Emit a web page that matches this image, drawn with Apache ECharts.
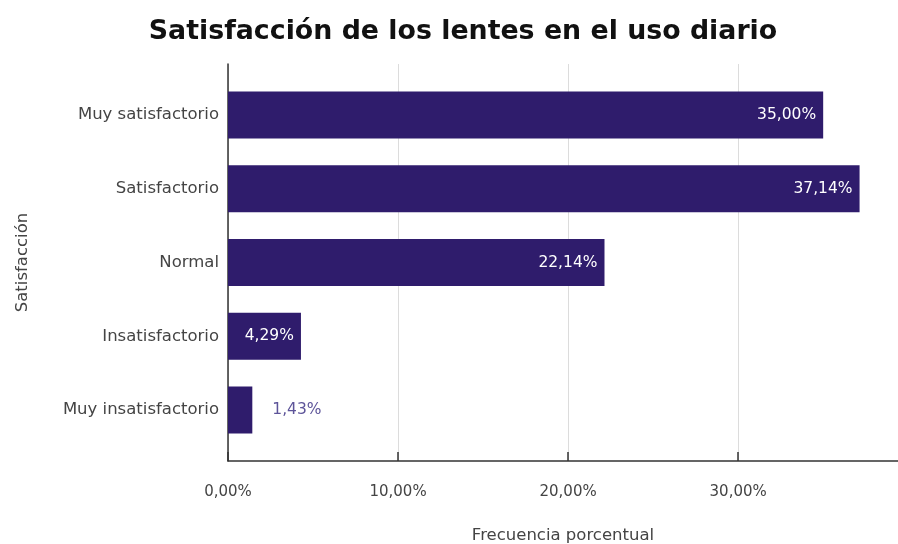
<!DOCTYPE html>
<html>
<head>
<meta charset="utf-8">
<script src="https://cdn.jsdelivr.net/npm/echarts@6/dist/echarts.min.js"></script>
<style>
  html, body { margin: 0; padding: 0; background: #fff; }
  #chart { width: 898px; height: 544px; }
</style>
</head>
<body>
<div id="chart"></div>
<script>
// Satisfaction levels, top to bottom
const categories = ['Muy satisfactorio', 'Satisfactorio', 'Normal', 'Insatisfactorio', 'Muy insatisfactorio'];
// Percentage of respondents per level
const percentages = [35.00, 37.14, 22.14, 4.29, 1.43];
// Ticks shown on the percentage axis
const tickValues = [0, 10, 20, 30];

const AXIS_MAX = 39.4;
const BAR_COLOR = '#2f1c6c';
const FONT = '"DejaVu Sans", Verdana, sans-serif';

const fmt = v => v.toFixed(2).replace('.', ',') + '%';

const barData = percentages.map(v => {
  const item = { value: v };
  // bars too short to hold their label get it outside, in a muted purple
  if (v < 3) {
    item.label = { position: 'right', distance: 20, color: '#5d5499' };
  }
  return item;
});

const chart = echarts.init(document.getElementById('chart'), null, { renderer: 'canvas' });
chart.setOption({
  backgroundColor: '#fff',
  animation: false,
  textStyle: { fontFamily: FONT },
  title: {
    text: 'Satisfacción de los lentes en el uso diario',
    left: 458,
    textAlign: 'center',
    top: 14,
    textStyle: { fontSize: 26.8, fontWeight: 'bold', color: '#111', fontFamily: FONT }
  },
  grid: [
    // bar area
    { left: 228, right: 0, top: 78, bottom: 97, outerBoundsMode: 'none', containLabel: false },
    // frame holding the axis lines, gridlines and ticks
    { left: 228, right: 0, top: 64, bottom: 83, outerBoundsMode: 'none', containLabel: false }
  ],
  xAxis: [
    {
      gridIndex: 0, type: 'value', min: 0, max: AXIS_MAX, show: false
    },
    {
      gridIndex: 1, type: 'value', min: 0, max: AXIS_MAX, interval: 10,
      name: 'Frecuencia porcentual',
      nameLocation: 'middle',
      nameGap: 66,
      nameTextStyle: { fontSize: 16.5, color: '#444', fontFamily: FONT },
      axisLine: { show: true, lineStyle: { color: '#333', width: 1.5 } },
      axisTick: { show: true, inside: true, length: 9, lineStyle: { color: '#333', width: 1.5 } },
      splitLine: { show: true, lineStyle: { color: '#dcdcdc', width: 1 } },
      axisLabel: {
        margin: 24, fontSize: 15, color: '#444', fontFamily: FONT,
        showMaxLabel: false,
        formatter: v => tickValues.includes(v) ? fmt(v) : ''
      }
    }
  ],
  yAxis: [
    {
      gridIndex: 0, type: 'category', data: categories, inverse: true,
      name: 'Satisfacción',
      nameLocation: 'middle',
      nameGap: 197,
      nameTextStyle: { fontSize: 16.5, color: '#444', fontFamily: FONT },
      axisLine: { show: false },
      axisTick: { show: false },
      axisLabel: { margin: 9, fontSize: 16.5, color: '#444', fontFamily: FONT }
    },
    {
      gridIndex: 1, type: 'value', min: 0, max: 1,
      axisLine: { show: true, lineStyle: { color: '#333', width: 1.5 } },
      axisTick: { show: false },
      axisLabel: { show: false },
      splitLine: { show: false }
    }
  ],
  series: [
    {
      type: 'bar',
      xAxisIndex: 0,
      yAxisIndex: 0,
      data: barData,
      barWidth: 47,
      itemStyle: { color: BAR_COLOR },
      label: {
        show: true,
        position: 'insideRight',
        distance: 7,
        color: '#fff',
        fontSize: 15.5,
        fontFamily: FONT,
        formatter: p => fmt(p.value)
      }
    }
  ]
});
</script>
</body>
</html>
